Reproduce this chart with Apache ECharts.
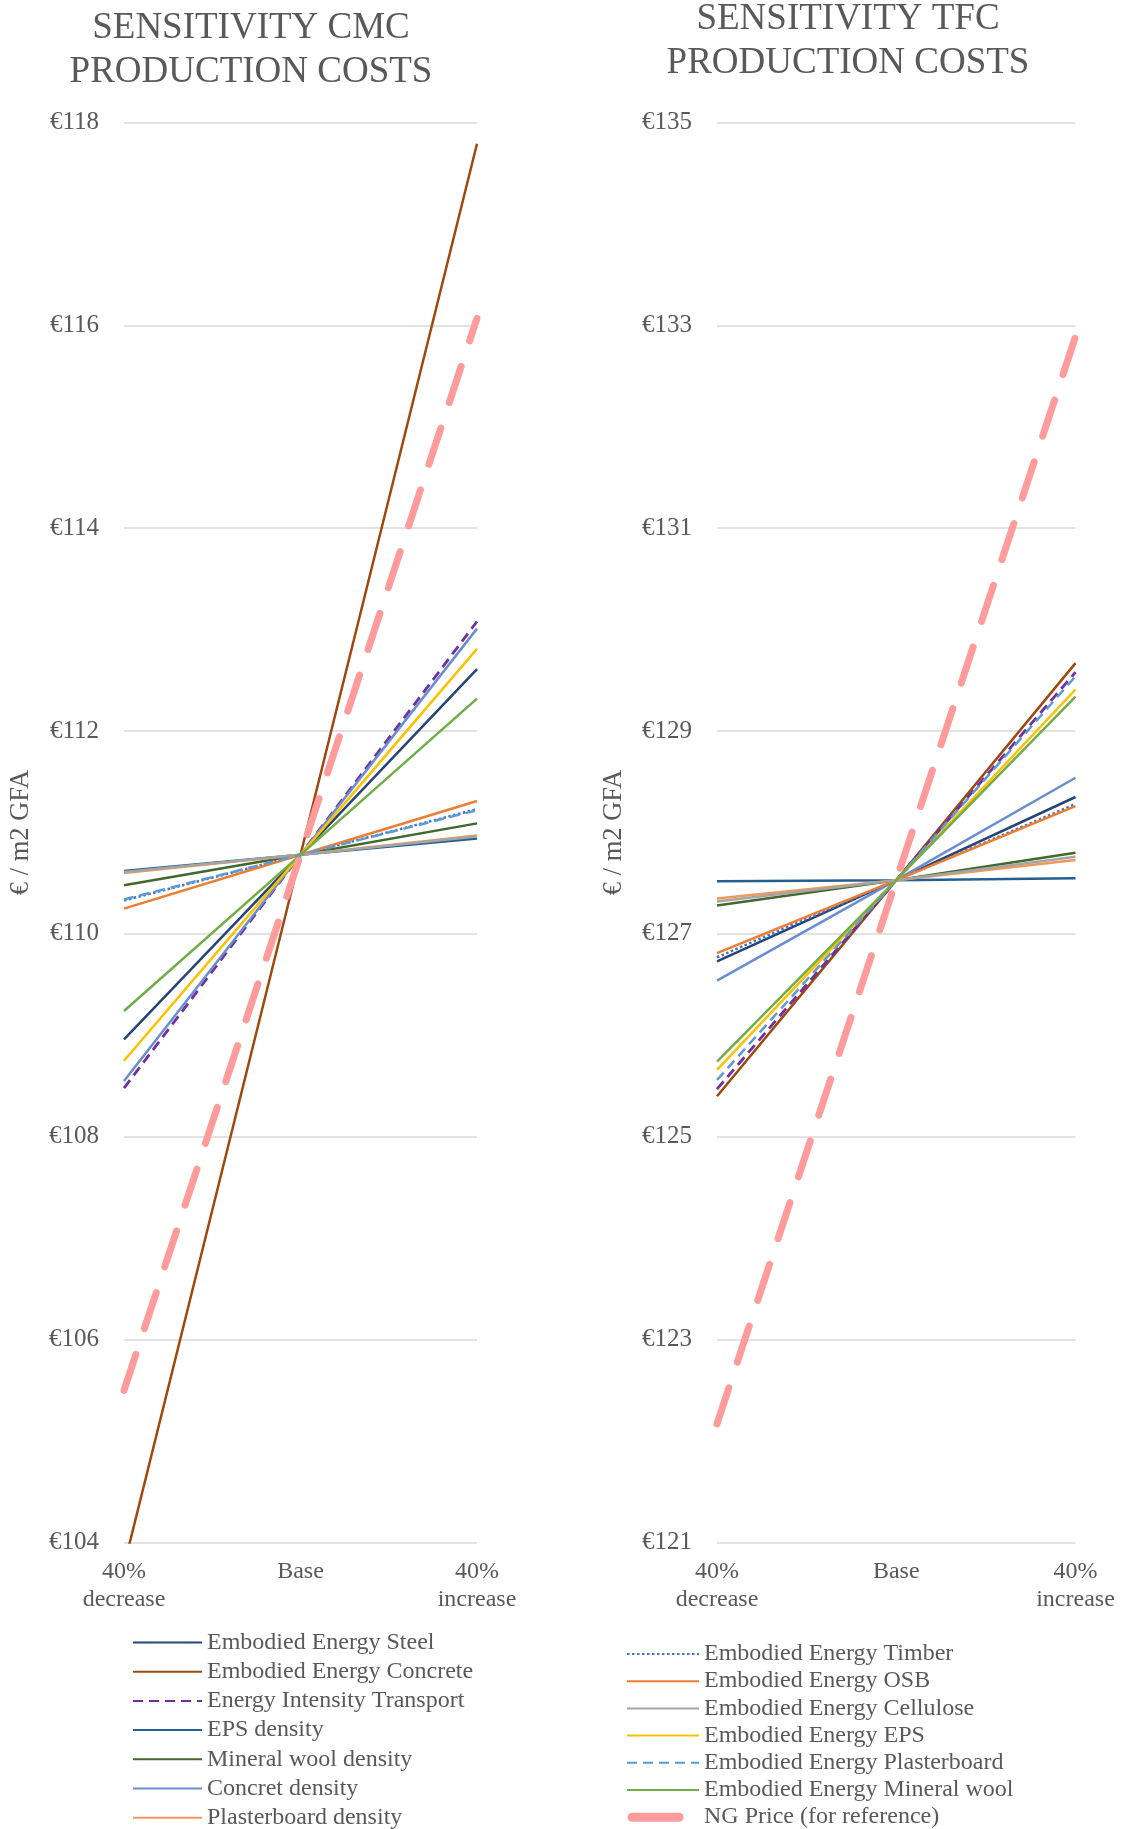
<!DOCTYPE html>
<html>
<head>
<meta charset="utf-8">
<script src="https://cdn.jsdelivr.net/npm/echarts@6/dist/echarts.min.js"></script>
<style>
html,body{margin:0;padding:0;background:#fff;}
#chart{width:1121px;height:1829px;}
</style>
</head>
<body>
<div id="chart"></div>
<script>
// ---- data ----
const categories = ['40%\ndecrease', 'Base', '40%\nincrease'];

const seriesNames = [
  'Embodied Energy Steel',
  'Embodied Energy Concrete',
  'Energy Intensity Transport',
  'EPS density',
  'Mineral wool density',
  'Concret density',
  'Plasterboard density',
  'Embodied Energy Timber',
  'Embodied Energy OSB',
  'Embodied Energy Cellulose',
  'Embodied Energy EPS',
  'Embodied Energy Plasterboard',
  'Embodied Energy Mineral wool',
  'NG Price (for reference)'
];

const leftLegendNames = seriesNames.slice(0, 7);
const rightLegendNames = seriesNames.slice(7);

// CMC production costs (€ / m2 GFA)
const cmcSteel              = [108.96, 110.78, 112.61];
const cmcConcrete           = [103.77, 110.78, 117.79];
const cmcTransport          = [108.48, 110.78, 113.08];
const cmcEpsDensity         = [110.62, 110.78, 110.94];
const cmcMineralWoolDensity = [110.48, 110.78, 111.09];
const cmcConcreteDensity    = [108.55, 110.78, 113.01];
const cmcPlasterDensity     = [110.60, 110.78, 110.97];
const cmcTimber             = [110.33, 110.78, 111.23];
const cmcOsb                = [110.25, 110.78, 111.31];
const cmcCellulose          = [110.61, 110.78, 110.96];
const cmcEps                = [108.75, 110.78, 112.81];
const cmcPlasterboard       = [110.34, 110.78, 111.22];
const cmcMineralWool        = [109.24, 110.78, 112.32];
const cmcNgPrice            = [105.50, 110.78, 116.07];

// TFC production costs (€ / m2 GFA)
const tfcSteel              = [126.73, 127.53, 128.35];
const tfcConcrete           = [125.40, 127.53, 129.67];
const tfcTransport          = [125.47, 127.53, 129.58];
const tfcEpsDensity         = [127.52, 127.53, 127.55];
const tfcMineralWoolDensity = [127.28, 127.53, 127.80];
const tfcConcreteDensity    = [126.54, 127.53, 128.54];
const tfcPlasterDensity     = [127.35, 127.53, 127.73];
const tfcTimber             = [126.77, 127.53, 128.28];
const tfcOsb                = [126.81, 127.53, 128.26];
const tfcCellulose          = [127.32, 127.53, 127.76];
const tfcEps                = [125.66, 127.53, 129.41];
const tfcPlasterboard       = [125.56, 127.53, 129.54];
const tfcMineralWool        = [125.74, 127.53, 129.34];
const tfcNgPrice            = [122.17, 127.53, 132.89];

const cmcTicks = { min: 104, max: 118, interval: 2 };
const tfcTicks = { min: 121, max: 135, interval: 2 };

// ---- styles ----
const cmcValues = [cmcSteel, cmcConcrete, cmcTransport, cmcEpsDensity, cmcMineralWoolDensity,
  cmcConcreteDensity, cmcPlasterDensity, cmcTimber, cmcOsb, cmcCellulose, cmcEps,
  cmcPlasterboard, cmcMineralWool, cmcNgPrice];
const tfcValues = [tfcSteel, tfcConcrete, tfcTransport, tfcEpsDensity, tfcMineralWoolDensity,
  tfcConcreteDensity, tfcPlasterDensity, tfcTimber, tfcOsb, tfcCellulose, tfcEps,
  tfcPlasterboard, tfcMineralWool, tfcNgPrice];

const colors = ['#264478', '#9E480E', '#7030A0', '#255E91', '#43682B', '#698ED0', '#F1975A',
  '#4472C4', '#ED7D31', '#A5A5A5', '#FFC000', '#5B9BD5', '#70AD47', '#FF9B9B'];
const lineTypes = ['solid', 'solid', [10, 6], 'solid', 'solid', 'solid', 'solid',
  [2.5, 2.5], 'solid', 'solid', 'solid', [10, 6], 'solid', [38, 27]];
const widths = [2.5, 2.5, 2.8, 2.5, 2.5, 2.5, 2.5, 2.5, 2.5, 2.5, 2.5, 2.5, 2.5, 7];

const FONT = '"Liberation Serif", "Times New Roman", serif';
const TXT = '#595959';

// rounded thick bar legend icon for NG price (72 x 20 frame, bar 0.5..56.5)
const NG_ICON = 'path://M0,0L0.01,0M72,20L72.01,20' +
  'M5,5.5L52,5.5C54.5,5.5 56.5,7.5 56.5,10C56.5,12.5 54.5,14.5 52,14.5' +
  'L5,14.5C2.5,14.5 0.5,12.5 0.5,10C0.5,7.5 2.5,5.5 5,5.5Z';

function buildSeries(values, axisIdx) {
  return values.map((vals, i) => ({
    name: seriesNames[i],
    type: 'line',
    xAxisIndex: axisIdx,
    yAxisIndex: axisIdx,
    data: vals,
    symbol: 'none',
    smooth: false,
    animation: false,
    z: 2 + i * 0.01,
    lineStyle: {
      color: colors[i],
      width: widths[i],
      type: lineTypes[i],
      cap: i === 13 ? 'round' : 'butt'
    },
    itemStyle: { color: colors[i] }
  }));
}

function yAxis(idx, ticks) {
  return {
    type: 'value',
    gridIndex: idx,
    min: ticks.min, max: ticks.max, interval: ticks.interval,
    name: '€ / m2 GFA',
    nameLocation: 'middle',
    nameRotate: 90,
    nameGap: 89,
    nameTextStyle: { fontFamily: FONT, fontSize: 26.5, color: TXT },
    axisLine: { show: false },
    axisTick: { show: false },
    axisLabel: { fontFamily: FONT, fontSize: 25, color: TXT, margin: 25,
      formatter: v => '€' + v },
    splitLine: { lineStyle: { color: '#D9D9D9', width: 1.5 } }
  };
}

function xAxis(idx) {
  return {
    type: 'category',
    gridIndex: idx,
    data: categories,
    boundaryGap: false,
    axisLine: { show: false },
    axisTick: { show: false },
    axisLabel: { fontFamily: FONT, fontSize: 24, color: TXT, margin: 15, lineHeight: 28,
      interval: 0 },
    splitLine: { show: false }
  };
}

function legendData(names) {
  return names.map(n => {
    const i = seriesNames.indexOf(n);
    if (i === 13) {
      return { name: n, icon: NG_ICON, symbolKeepAspect: false,
        itemStyle: { opacity: 1, color: colors[i], borderWidth: 0 } };
    }
    return { name: n };
  });
}

const chart = echarts.init(document.getElementById('chart'), null, { renderer: 'canvas' });
chart.setOption({
  animation: false,
  backgroundColor: '#ffffff',
  title: [
    { text: 'SENSITIVITY CMC\nPRODUCTION COSTS', left: 246, top: 1.5, textAlign: 'center',
      textStyle: { fontFamily: FONT, fontSize: 37, fontWeight: 'normal', color: TXT, lineHeight: 44 } },
    { text: 'SENSITIVITY TFC\nPRODUCTION COSTS', left: 843, top: -7.5, textAlign: 'center',
      textStyle: { fontFamily: FONT, fontSize: 37, fontWeight: 'normal', color: TXT, lineHeight: 44 } }
  ],
  grid: [
    { left: 124, top: 122.5, width: 353, height: 1420 },
    { left: 717, top: 122.5, width: 358.5, height: 1420 }
  ],
  xAxis: [xAxis(0), xAxis(1)],
  yAxis: [yAxis(0, cmcTicks), yAxis(1, tfcTicks)],
  legend: [
    { data: legendData(leftLegendNames), orient: 'vertical', left: 132, top: 1630.5,
      height: 400, padding: 0, align: 'left',
      itemWidth: 69, itemHeight: 20, itemGap: 5.2,
      itemStyle: { opacity: 0 },
      textStyle: { fontFamily: FONT, fontSize: 24, color: TXT } },
    { data: legendData(rightLegendNames), orient: 'vertical', left: 626, top: 1642,
      height: 400, padding: 0, align: 'left',
      itemWidth: 72, itemHeight: 20, itemGap: 3.2,
      itemStyle: { opacity: 0 },
      textStyle: { fontFamily: FONT, fontSize: 24, color: TXT } }
  ],
  series: buildSeries(cmcValues, 0).concat(buildSeries(tfcValues, 1))
});
</script>
</body>
</html>
